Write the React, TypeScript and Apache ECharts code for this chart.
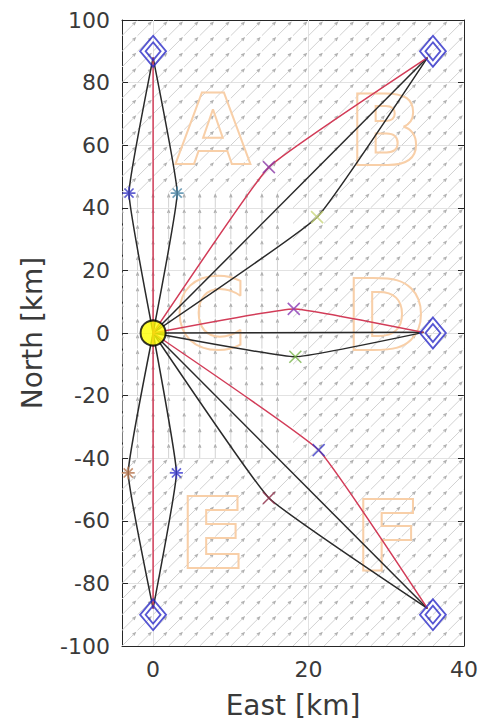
import React, { useEffect, useRef } from "react";
import * as echarts from "echarts";

// ---- axes ----
const xTicks = [0, 20, 40];
const xGridLines = [0, 20];
const xRange = [-4, 40];
const yRange = [-100, 100];

// ---- background quiver field (grid nodes) ----
const quiverX = [-4, -2, 0, 2, 4, 6, 8, 10, 12, 14, 16, 18, 20, 22, 24, 26, 28, 30, 32, 34, 36, 38, 40];
const quiverY = [
  -100, -95, -90, -85, -80, -75, -70, -65, -60, -55, -50, -45, -40, -35, -30, -25, -20, -15, -10, -5, 0,
  5, 10, 15, 20, 25, 30, 35, 40, 45, 50, 55, 60, 65, 70, 75, 80, 85, 90, 95, 100,
];
const northZone = { xMax: 16, yMin: -40, yMax: 40 };
const northVector = [0, 4.2];
const diagonalVector = [1.7, 4.2];

// ---- stations ----
const originPoint = [0, 0];
const targetPoints = [
  [0, 90],
  [36, 90],
  [36, 0],
  [36, -90],
  [0, -90],
];

// ---- paths ----
const redPaths = [
  [[0, 0], [0, 88]],
  [[0, 0], [14.9, 53], [35.3, 88]],
  [[0, 0], [18.1, 7.7], [34.8, 0.2]],
  [[0, 0], [21.3, -37.4], [35.3, -88]],
  [[0, 0], [0, -88]],
];
const blackPaths = [
  [[0, 0], [-3.1, 44.7], [0, 88]],
  [[0, 0], [3.1, 44.7], [0, 88]],
  [[0, 0], [35.3, 88]],
  [[0, 0], [21.1, 37], [35.3, 88]],
  [[0, 0], [34.8, 0.2]],
  [[0, 0], [18.3, -7.6], [34.8, 0.2]],
  [[0, 0], [35.3, -88]],
  [[0, 0], [14.9, -52.7], [35.3, -88]],
  [[0, 0], [-3.2, -44.7], [0, -88]],
  [[0, 0], [3.0, -44.7], [0, -88]],
];

// ---- waypoint markers ----
const asteriskPoints = [[-3.1, 44.7], [3.1, 44.7], [-3.2, -44.7], [3.0, -44.7]];
const asteriskColors = ["#3a3ac4", "#4a86a6", "#b8764e", "#3a3ad0"];
const crossPoints = [[14.9, 53], [21.1, 37], [18.1, 7.7], [18.3, -7.6], [21.3, -37.4], [14.9, -52.7]];
const crossColors = ["#8a3aa6", "#c8d67a", "#8a3ab4", "#78b44a", "#3a3ac4", "#94324e"];

// ---- zone letters ----
const letterNames = ["A", "B", "C", "D", "E", "F"];
const letterX = [7.7, 29.9, 7.4, 29.9, 7.6, 30.2];
const letterY = [64.7, 64.5, 5.6, 5.3, -64.3, -65];

const TEXT = "#3a3a3a";
const AX = "#262626";
const FONT = "DejaVu Sans";

export default function App() {
  const ref = useRef<HTMLDivElement>(null);

  useEffect(() => {
    if (!ref.current) return;
    const chart = echarts.init(ref.current, undefined, { renderer: "svg" });

    const quiverData: number[][] = [];
    for (const qx of quiverX) {
      for (const qy of quiverY) {
        const north = qx <= northZone.xMax && qy >= northZone.yMin && qy <= northZone.yMax;
        const vec = north ? northVector : diagonalVector;
        quiverData.push([qx, qy, vec[0], vec[1]]);
      }
    }

    const quiverSeries: any = {
      type: "custom",
      z: 1,
      clip: true,
      silent: true,
      data: quiverData,
      encode: { x: 0, y: 1 },
      renderItem: (_p: any, api: any) => {
        const x = api.value(0), y = api.value(1), u = api.value(2), v = api.value(3);
        const p0 = api.coord([x, y]);
        const p1 = api.coord([x + u, y + v]);
        const dx = p1[0] - p0[0], dy = p1[1] - p0[1];
        const len = Math.hypot(dx, dy) || 1;
        const ux = dx / len, uy = dy / len;
        const h = 3, a = 0.4;
        const c = Math.cos(a), s = Math.sin(a);
        const l1 = [p1[0] - h * (ux * c - uy * s), p1[1] - h * (uy * c + ux * s)];
        const l2 = [p1[0] - h * (ux * c + uy * s), p1[1] - h * (uy * c - ux * s)];
        return {
          type: "group",
          children: [
            { type: "line", shape: { x1: p0[0], y1: p0[1], x2: p1[0], y2: p1[1] }, style: { stroke: "#d2d2d2", lineWidth: 1 } },
            { type: "polyline", shape: { points: [l1, p1, l2] }, style: { stroke: "#b0b0b0", fill: "none", lineWidth: 1.2 } },
          ],
        };
      },
      markLine: {
        silent: true,
        z: 1,
        symbol: "none",
        label: { show: false },
        lineStyle: { color: "#e2e2e2", width: 1, type: "solid" },
        data: xGridLines.map((v) => ({ xAxis: v })),
      },
    };

    const letterSeries: any = {
      type: "custom",
      z: 2,
      silent: true,
      data: letterNames.map((n, i) => [letterX[i], letterY[i], i]),
      encode: { x: 0, y: 1 },
      renderItem: (_p: any, api: any) => {
        const p = api.coord([api.value(0), api.value(1)]);
        const name = letterNames[api.value(2)];
        return {
          type: "text",
          x: p[0],
          y: p[1],
          style: {
            text: name,
            fill: "rgba(255,255,255,0)",
            stroke: "#f8cfa8",
            lineWidth: 2,
            font: `bold 98px "${FONT}"`,
            align: "center",
            verticalAlign: "middle",
          },
        };
      },
    };

    const lineSeries: any[] = [];
    redPaths.forEach((p) =>
      lineSeries.push({
        type: "line",
        data: p,
        z: 4,
        smooth: 0.1,
        showSymbol: false,
        symbol: "none",
        silent: true,
        lineStyle: { color: "#d23c58", width: 1.5 },
      })
    );
    blackPaths.forEach((p) =>
      lineSeries.push({
        type: "line",
        data: p,
        z: 3,
        smooth: 0.1,
        showSymbol: false,
        symbol: "none",
        silent: true,
        lineStyle: { color: "#2a2a2a", width: 1.5 },
      })
    );

    const asteriskSeries: any = {
      type: "scatter",
      z: 6,
      silent: true,
      symbol: "path://M5 0L5 10M0 5L10 5M1.5 1.5L8.5 8.5M8.5 1.5L1.5 8.5",
      symbolSize: 13,
      data: asteriskPoints.map((p, i) => ({
        value: p,
        itemStyle: { color: "rgba(0,0,0,0)", borderColor: asteriskColors[i], borderWidth: 1.6 },
      })),
    };
    const crossSeries: any = {
      type: "scatter",
      z: 6,
      silent: true,
      symbol: "path://M0 0L10 10M10 0L0 10",
      symbolSize: 12,
      data: crossPoints.map((p, i) => ({
        value: p,
        itemStyle: { color: "rgba(0,0,0,0)", borderColor: crossColors[i], borderWidth: 1.6 },
      })),
    };
    const diamondOuter: any = {
      type: "scatter",
      z: 6,
      silent: true,
      symbol: "diamond",
      symbolSize: [26, 31],
      data: targetPoints,
      itemStyle: { color: "rgba(0,0,0,0)", borderColor: "#2c2cc8", borderWidth: 1.8 },
    };
    const diamondInner: any = {
      type: "scatter",
      z: 6,
      silent: true,
      symbol: "diamond",
      symbolSize: [15, 18],
      data: targetPoints,
      itemStyle: { color: "rgba(0,0,0,0)", borderColor: "#2c2cc8", borderWidth: 1.8 },
    };
    const originSeries: any = {
      type: "scatter",
      z: 7,
      silent: true,
      symbol: "circle",
      symbolSize: 25,
      data: [originPoint],
      itemStyle: { color: "#ffff00", borderColor: "#000000", borderWidth: 2 },
    };

    const common = {
      min: xRange[0],
      max: xRange[1],
    };

    chart.setOption({
      animation: false,
      backgroundColor: "#ffffff",
      grid: { left: 122, right: 17, top: 20, bottom: 78, containLabel: false },
      xAxis: [
        {
          type: "value",
          ...common,
          position: "bottom",
          name: "East [km]",
          nameLocation: "middle",
          nameGap: 45,
          nameTextStyle: { color: TEXT, fontSize: 28, fontFamily: FONT },
          axisLine: { show: true, onZero: false, lineStyle: { color: AX, width: 1 } },
          axisTick: { show: true, inside: true, length: 6, customValues: xTicks, lineStyle: { color: AX } },
          axisLabel: { show: true, customValues: xTicks, color: TEXT, fontSize: 22, fontFamily: FONT, margin: 12 },
          splitLine: { show: false },
        },
        {
          type: "value",
          ...common,
          position: "top",
          axisLine: { show: true, onZero: false, lineStyle: { color: AX, width: 1 } },
          axisTick: { show: true, inside: true, length: 6, customValues: xTicks, lineStyle: { color: AX } },
          axisLabel: { show: false },
          splitLine: { show: false },
        },
      ],
      yAxis: [
        {
          type: "value",
          min: yRange[0],
          max: yRange[1],
          interval: 20,
          position: "left",
          name: "North [km]",
          nameLocation: "middle",
          nameGap: 76,
          nameTextStyle: { color: TEXT, fontSize: 28, fontFamily: FONT },
          axisLine: { show: true, onZero: false, lineStyle: { color: AX, width: 1 } },
          axisTick: { show: true, inside: true, length: 6, lineStyle: { color: AX } },
          axisLabel: { color: TEXT, fontSize: 22, fontFamily: FONT, margin: 12 },
          splitLine: { show: true, lineStyle: { color: "#e2e2e2", width: 1 } },
        },
        {
          type: "value",
          min: yRange[0],
          max: yRange[1],
          interval: 20,
          position: "right",
          axisLine: { show: true, onZero: false, lineStyle: { color: AX, width: 1 } },
          axisTick: { show: true, inside: true, length: 6, lineStyle: { color: AX } },
          axisLabel: { show: false },
          splitLine: { show: false },
        },
      ],
      series: [
        quiverSeries,
        letterSeries,
        ...lineSeries,
        asteriskSeries,
        crossSeries,
        diamondOuter,
        diamondInner,
        originSeries,
      ],
    });

    return () => chart.dispose();
  }, []);

  return (
    <div
      ref={ref}
      style={{ position: "fixed", left: 0, top: 0, width: 481, height: 724, background: "#fff" }}
    />
  );
}
